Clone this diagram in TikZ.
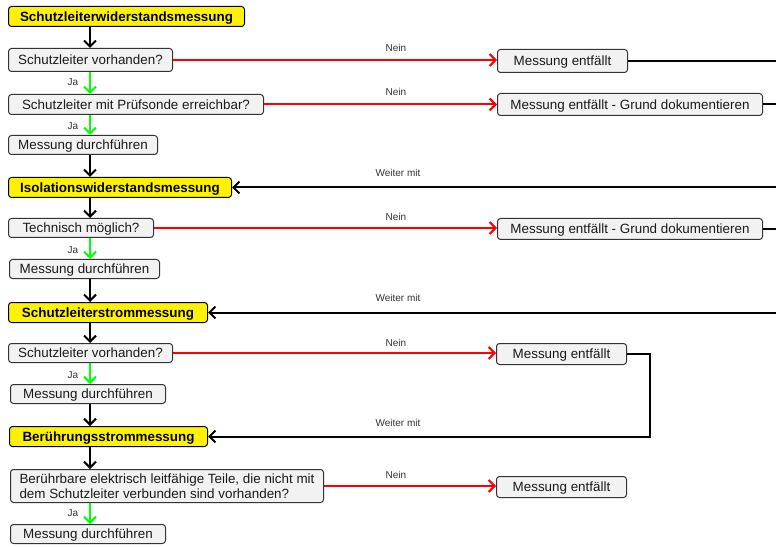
\documentclass[tikz,border=0pt]{standalone}
\usepackage{fontspec}
\setmainfont{Liberation Sans}
\usetikzlibrary{arrows.meta}
\newcommand\myfs{\fontsize{13.4bp}{15.5bp}\selectfont}
\newcommand\mybf{\fontsize{13.4bp}{15.5bp}\selectfont\bfseries}
\newcommand\mysm{\fontsize{10bp}{11bp}\selectfont}
\definecolor{boxfill}{HTML}{F2F2F2}
\definecolor{boxline}{HTML}{333333}
\definecolor{txt}{HTML}{1A1A1A}
\tikzset{
  box/.style={draw=boxline, fill=boxfill, rounded corners=3bp, line width=1bp, inner sep=0pt, anchor=north west, font=\myfs, text=txt, text height=12bp, text depth=2.4bp},
  title/.style={box, fill=yellow, draw=black, font=\mybf, text=black},
  lbl/.style={font=\mysm, text=black!80, inner sep=0pt},
  flow/.style={line width=2bp, -{Straight Barb[length=6bp,width=12bp,line width=2bp]}},
  blk/.style={flow, draw=black},
  nein/.style={flow, draw=red},
  ja/.style={flow, draw=green},
  plain/.style={line width=2bp, draw=black},
}
\begin{document}
\begin{tikzpicture}[x=1bp,y=-1bp]
\useasboundingbox (0,0) rectangle (776,547);
\coordinate (C) at (90,0);
\coordinate (E) at (777,0);
\coordinate (K) at (650,0);

\node[title, minimum width=236bp, minimum height=20bp] (t1) at (8,6) {Schutzleiterwiderstandsmessung};
\node[box, minimum width=164bp, minimum height=23bp] (q1) at (8,48) {Schutzleiter vorhanden?};
\node[box, minimum width=130bp, minimum height=23bp] (n1) at (497,49) {Messung entfällt};
\node[box, minimum width=255bp, minimum height=20bp] (q2) at (8,94) {Schutzleiter mit Prüfsonde erreichbar?};
\node[box, minimum width=265bp, minimum height=22bp] (n2) at (497,93) {Messung entfällt - Grund dokumentieren};
\node[box, minimum width=149bp, minimum height=19bp] (m1) at (8,135) {Messung durchführen};

\node[title, minimum width=223bp, minimum height=20bp] (t2) at (8,177) {Isolationswiderstandsmessung};
\node[box, minimum width=145bp, minimum height=19bp] (q3) at (8,218) {Technisch möglich?};
\node[box, minimum width=265bp, minimum height=21bp] (n3) at (497,218) {Messung entfällt - Grund dokumentieren};
\node[box, minimum width=150bp, minimum height=19bp] (m2) at (9,259) {Messung durchführen};

\node[title, minimum width=199bp, minimum height=20bp] (t3) at (8,302) {Schutzleiterstrommessung};
\node[box, minimum width=164bp, minimum height=19bp] (q4) at (8,343) {Schutzleiter vorhanden?};
\node[box, minimum width=130bp, minimum height=21bp] (n4) at (496,343) {Messung entfällt};
\node[box, minimum width=155bp, minimum height=19bp] (m3) at (10,384) {Messung durchführen};

\node[title, minimum width=198bp, minimum height=20bp] (t4) at (9,426) {Berührungsstrommessung};
\node[box, minimum width=313bp, minimum height=33bp, align=left, text height=27.5bp, text depth=2.4bp] (q5) at (10,469) {Berührbare elektrisch leitfähige Teile, die nicht mit\\dem Schutzleiter verbunden sind vorhanden?};
\node[box, minimum width=130bp, minimum height=21bp] (n5) at (496,476) {Messung entfällt};
\node[box, minimum width=155bp, minimum height=19bp] (m4) at (10,524) {Messung durchführen};

% vertical flow
\draw[blk] (t1.south -| C) -- (q1.north -| C);
\draw[ja] (q1.south -| C) -- (q2.north -| C);
\draw[ja] (q2.south -| C) -- (m1.north -| C);
\draw[blk] (m1.south -| C) -- (t2.north -| C);
\draw[blk] (t2.south -| C) -- (q3.north -| C);
\draw[ja] (q3.south -| C) -- (m2.north -| C);
\draw[blk] (m2.south -| C) -- (t3.north -| C);
\draw[blk] (t3.south -| C) -- (q4.north -| C);
\draw[ja] (q4.south -| C) -- (m3.north -| C);
\draw[blk] (m3.south -| C) -- (t4.north -| C);
\draw[blk] (t4.south -| C) -- (q5.north -| C);
\draw[ja] (q5.south -| C) -- (m4.north -| C);

% Ja labels
\node[lbl] (ja1) at (73,82) {Ja};
\node[lbl] (ja2) at (73,126) {Ja};
\node[lbl] (ja3) at (73,250) {Ja};
\node[lbl] (ja4) at (73,375) {Ja};
\node[lbl] (ja5) at (73,513) {Ja};

% Nein branches
\draw[nein] (q1.east) -- (n1.west |- q1.east);
\draw[nein] (q2.east) -- (n2.west |- q2.east);
\draw[nein] (q3.east) -- (n3.west |- q3.east);
\draw[nein] (q4.east) -- (n4.west |- q4.east);
\draw[nein] (q5.east) -- (n5.west |- q5.east);
\node[lbl] (nein1) at (396,48) {Nein};
\node[lbl] (nein2) at (396,92) {Nein};
\node[lbl] (nein3) at (396,217) {Nein};
\node[lbl] (nein4) at (396,343) {Nein};
\node[lbl] (nein5) at (396,475) {Nein};

% continuation lines to the right edge
\draw[plain] (n1.east) -- (n1.east -| E);
\draw[plain] (n2.east) -- (n2.east -| E);
\draw[plain] (n3.east) -- (n3.east -| E);

% Weiter mit
\draw[blk] (t2.east -| E) -- (t2.east);
\draw[blk] (t3.east -| E) -- (t3.east);
\draw[blk] (n4.east) -- (n4.east -| K) -- (t4.east -| K) -- (t4.east);
\node[lbl] (w1) at (398,173) {Weiter mit};
\node[lbl] (w2) at (398,298) {Weiter mit};
\node[lbl] (w3) at (398,423) {Weiter mit};
\end{tikzpicture}
\end{document}
